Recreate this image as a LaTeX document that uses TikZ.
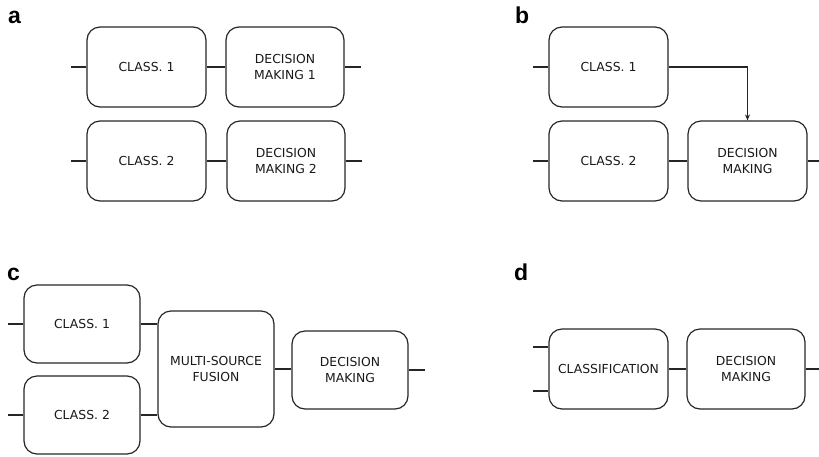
\documentclass[tikz,border=0pt]{standalone}
\usepackage{fontspec}
\setmainfont{DejaVu Sans}
\newfontfamily\labelfont{Liberation Sans}
\usetikzlibrary{arrows.meta}
\begin{document}
\begin{tikzpicture}[x=1pt,y=-1pt,
  box/.style={draw=black!85, line width=1.2pt, rounded corners=13pt, minimum width=118pt, minimum height=80pt, inner sep=0pt, align=center, font=\fontsize{12.4}{15.5}\selectfont, text=black!90},
  wire/.style={draw=black!85, line width=1.2pt},
  plabel/.style={anchor=base west, inner sep=0pt, font=\labelfont\bfseries\fontsize{23}{23}\selectfont}]
\useasboundingbox (0,0) rectangle (819,456);
% panel a
\node[plabel] (la) at (8,23) {a};
\node[box, minimum width=119pt] (a1) at (146.5,67) {CLASS. 1};
\node[box] (ad1) at (285,67) {DECISION\\MAKING 1};
\node[box, minimum width=119pt] (a2) at (146.5,161) {CLASS. 2};
\node[box] (ad2) at (286,161) {DECISION\\MAKING 2};
\coordinate (ain1) at (71,67);
\coordinate (ain2) at (71,161);
\coordinate (aout1) at (361,67);
\coordinate (aout2) at (362,161);
\draw[wire] (ain1) -- (a1.west);
\draw[wire] (a1.east) -- (ad1.west);
\draw[wire] (ad1.east) -- (aout1);
\draw[wire] (ain2) -- (a2.west);
\draw[wire] (a2.east) -- (ad2.west);
\draw[wire] (ad2.east) -- (aout2);
% panel b
\node[plabel] (lb) at (515,23) {b};
\node[box, minimum width=119pt] (b1) at (608.5,67) {CLASS. 1};
\node[box, minimum width=119pt] (b2) at (608.5,161) {CLASS. 2};
\node[box, minimum width=119pt] (bd) at (747.5,161) {DECISION\\MAKING};
\coordinate (bin1) at (533,67);
\coordinate (bin2) at (533,161);
\coordinate (bout) at (819,161);
\draw[wire] (bin1) -- (b1.west);
\draw[wire] (bin2) -- (b2.west);
\draw[wire, -{Stealth[length=6pt,width=5pt]}] (b1.east) -| (bd.north);
\draw[wire] (b2.east) -- (bd.west);
\draw[wire] (bd.east) -- (bout);
% panel c
\node[plabel] (lc) at (7,280) {c};
\node[box, minimum width=116pt, minimum height=78pt] (c1) at (82,324) {CLASS. 1};
\node[box, minimum width=116pt, minimum height=78pt] (c2) at (82,415) {CLASS. 2};
\node[box, minimum width=116pt, minimum height=116pt] (cf) at (216,369) {MULTI-SOURCE\\FUSION};
\node[box, minimum width=116pt, minimum height=78pt] (cd) at (350,370) {DECISION\\MAKING};
\coordinate (cin1) at (8,324);
\coordinate (cin2) at (8,415);
\coordinate (cout) at (425,370);
\draw[wire] (cin1) -- (c1.west);
\draw[wire] (cin2) -- (c2.west);
\draw[wire] (c1.east) -- (c1.east -| cf.west);
\draw[wire] (c2.east) -- (c2.east -| cf.west);
\draw[wire] (cf.east) -- (cf.east -| cd.west);
\draw[wire] (cd.east) -- (cout);
% panel d
\node[plabel] (ld) at (514,280) {d};
\node[box, minimum width=119pt] (dc) at (608.5,369) {CLASSIFICATION};
\node[box] (dd) at (746,369) {DECISION\\MAKING};
\coordinate (din1) at (533,347);
\coordinate (din2) at (533,391);
\coordinate (dout) at (819,369);
\draw[wire] (din1) -- (din1 -| dc.west);
\draw[wire] (din2) -- (din2 -| dc.west);
\draw[wire] (dc.east) -- (dd.west);
\draw[wire] (dd.east) -- (dout);
\end{tikzpicture}
\end{document}
